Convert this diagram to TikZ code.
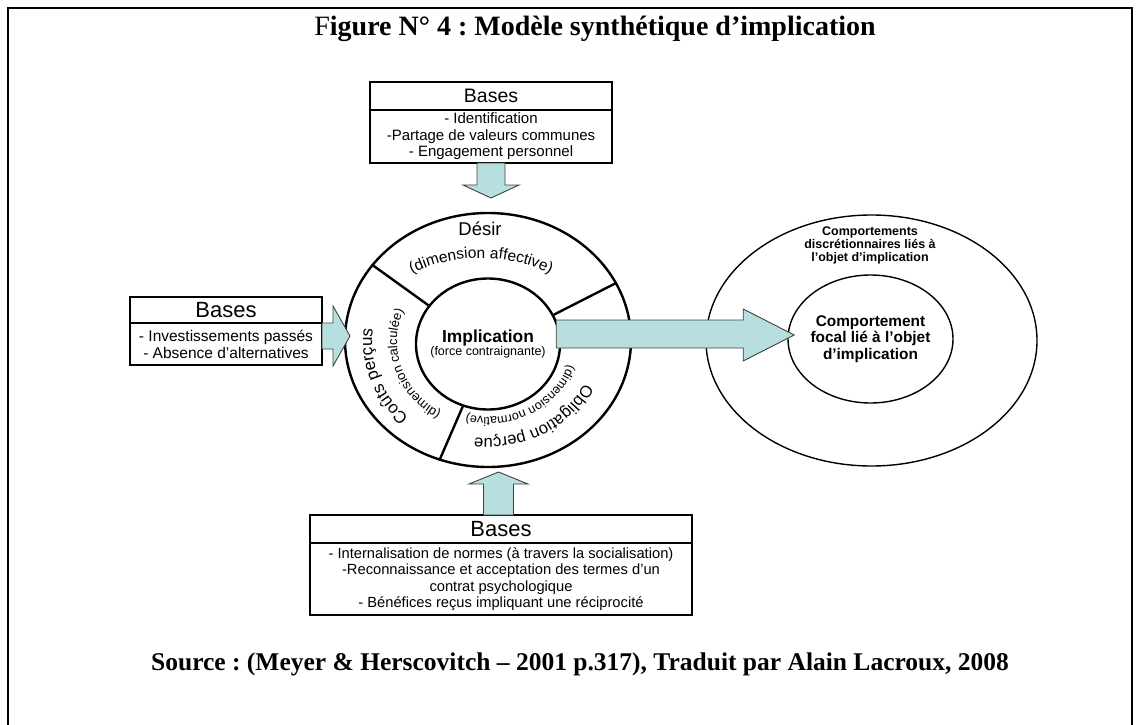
\documentclass[tikz,border=0pt]{standalone}
\usepackage{fontspec}
\setmainfont{Liberation Sans}
\newfontfamily\titlefont{Liberation Serif}
\usetikzlibrary{positioning, shapes.geometric, decorations.text}
\frenchspacing

\definecolor{arrowblue}{RGB}{184,223,224}

\tikzset{
  hdr/.style={draw, line width=1.1, outer sep=0, inner sep=0, align=center},
  body/.style={draw, line width=1.1, outer sep=0, inner sep=0, align=center},
  fat/.style={draw=black!75, fill=arrowblue, line width=0.9, line join=miter},
  ringline/.style={line width=2.4},
  curved/.style={decorate, decoration={text along path, text align=center, text={#1}}}
}

\begin{document}
\begin{tikzpicture}[x=1pt, y=1pt]
			\useasboundingbox (0,0) rectangle (1137,-725);
			\draw[line width=2.4] (8,-725) -- (8,-8) -- (1132,-8) -- (1132,-725);

			\node[font=\titlefont\fontsize{28}{32}\selectfont] (title) at (595,-29) {F\textbf{igure N° 4 : Modèle synthétique d’implication}};
			\node[font=\titlefont\bfseries\fontsize{25.5}{30}\selectfont] (source) at (580,-664) {Source : (Meyer \& Herscovitch – 2001 p.317), Traduit par Alain Lacroux, 2008};

			% bases boxes
			\node[hdr, minimum width=242, minimum height=28, font=\fontsize{19.5}{22}\selectfont] (b1) at (491,-96) {Bases};
			\node[body, below=0pt of b1, minimum width=242, minimum height=53, font=\fontsize{15}{16.5}\selectfont] (b1t)
				{- Identification\\-Partage de valeurs communes\\- Engagement personnel};
			\node[hdr, minimum width=192, minimum height=26, font=\fontsize{22}{24}\selectfont] (b2) at (226,-310) {Bases};
			\node[body, below=0pt of b2, minimum width=192, minimum height=42, font=\fontsize{15.5}{17}\selectfont] (b2t)
				{- Investissements passés\\- Absence d’alternatives};
			\node[hdr, minimum width=382, minimum height=28, font=\fontsize{22}{24}\selectfont] (b3) at (501,-529) {Bases};
			\node[body, below=0pt of b3, minimum width=382, minimum height=72, font=\fontsize{14.7}{16.3}\selectfont] (b3t)
				{- Internalisation de normes (à travers la socialisation)\\-Reconnaissance et acceptation des termes d'un\\contrat psychologique\\- Bénéfices reçus impliquant une réciprocité};

			% ring
			\node[ellipse, draw, ringline, minimum width=286, minimum height=254] (ring) at (488,-340) {};
			\node[ellipse, draw, ringline, minimum width=144, minimum height=131, inner sep=0] (core) at (488,-344) {};
			\node[align=center] (impl) at (core)
				{\fontsize{17.4}{19}\selectfont\textbf{Implication}\\[-1pt]\fontsize{12.5}{14}\selectfont(force contraignante)};
			\draw[ringline] (core.147) -- (ring.147);
			\draw[ringline] (core.24) -- (ring.24);
			\draw[ringline] (core.248) -- (ring.248);

			\node[font=\fontsize{18.5}{20}\selectfont] (desir) at (480,-229) {Désir};
			\path[curved={|\fontsize{15.5}{17}\selectfont|(dimension affective)}] (481,-418) ++(125:160) arc[start angle=125, end angle=55, radius=160];
			\path[curved={|\fontsize{17}{19}\selectfont|Coûts perçus}] (488,-342) ++(250:116 and 104) arc[start angle=250, end angle=148, x radius=116, y radius=104];
			\path[curved={|\fontsize{13}{15}\selectfont|(dimension calculée)}] (488,-342) ++(250:91 and 82) arc[start angle=250, end angle=146, x radius=91, y radius=82];
			\path[curved={|\fontsize{16.6}{19}\selectfont|Obligation perçue}] (488,-342) ++(10:107 and 96) arc[start angle=10, end angle=-130, x radius=107, y radius=96];
			\path[curved={|\fontsize{12.5}{14}\selectfont|(dimension normative)}] (488,-342) ++(10:84 and 75) arc[start angle=10, end angle=-130, x radius=84, y radius=75];

			% behaviours
			\node[ellipse, draw, line width=1.4, minimum width=331, minimum height=251] (behav) at (871.5,-340.5) {};
			\node[ellipse, draw, line width=1.4, minimum width=165, minimum height=128, inner sep=0] (focal) at (870.5,-339) {};
			\node[align=center, font=\bfseries\fontsize{15.4}{16.7}\selectfont] (focaltxt) at (focal)
				{Comportement\\focal lié à l'objet\\d'implication};
			\node[align=center, font=\bfseries\fontsize{12.5}{13}\selectfont] (discr) at (870,-245)
				{Comportements\\discrétionnaires liés à\\l'objet d'implication};

			% fat arrows
			\draw[fat] (b1t.south) ++(-14,0) -- ++(0,-22) -- ++(-14,0) -- ++(28,-13) -- ++(28,13) -- ++(-14,0) -- ++(0,22) -- cycle;
			\draw[fat] (b2t.north east) -- ++(11,0) -- ++(0,17) -- ++(17,-30) -- ++(-17,-30) -- ++(0,17) -- ++(-11,0) -- cycle;
			\draw[fat] (b3.north) ++(-17.5,0) -- ++(0,31) -- ++(-14.5,0) -- ++(29.5,12) -- ++(29.5,-12) -- ++(-14.5,0) -- ++(0,-31) -- cycle;
			\draw[fat] (core.east) ++(-5,24) -- ++(187,0) -- ++(0,11) -- ++(51,-26) -- ++(-51,-26) -- ++(0,13) -- ++(-187,0) -- cycle;
\end{tikzpicture}
\end{document}
